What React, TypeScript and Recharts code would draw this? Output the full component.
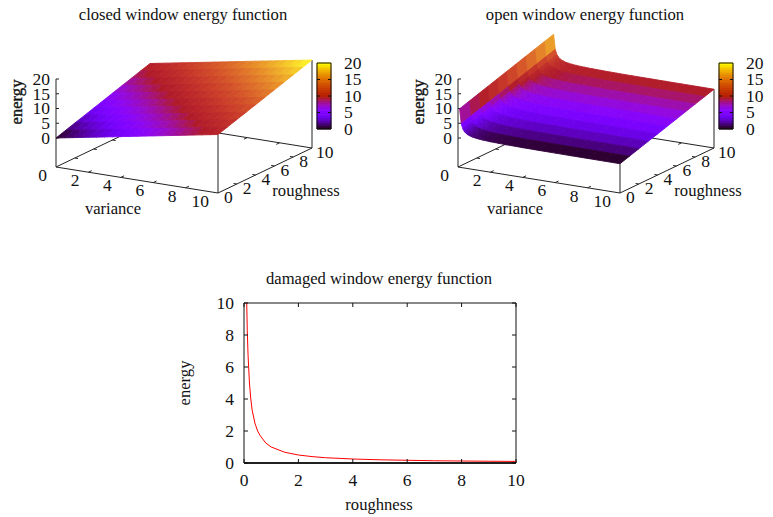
import React from "react";
import { ScatterChart, Scatter, LineChart, Line, XAxis, YAxis, ReferenceLine } from "recharts";

const FONT = "'Liberation Serif', serif";
const INK = "#111";
const TICK_FONT = 17.5;
const LABEL_FONT = 16.6;

const varianceTicks = [0, 2, 4, 6, 8, 10];
const roughnessTicks = [0, 2, 4, 6, 8, 10];
const energyTicks = [0, 5, 10, 15, 20];
const colorbarTicks = [5, 10, 15];
const colorbarLevels = [
  0, 0.5, 1, 1.5, 2, 2.5, 3, 3.5, 4, 4.5, 5, 5.5, 6, 6.5, 7, 7.5, 8, 8.5, 9, 9.5, 10,
  10.5, 11, 11.5, 12, 12.5, 13, 13.5, 14, 14.5, 15, 15.5, 16, 16.5, 17, 17.5, 18, 18.5, 19, 19.5, 20,
];
const roughnessSamples = [0, 1, 2, 3, 4, 5, 6, 7, 8, 9, 10];

const closedVariance = [0, 0.5, 1, 1.5, 2, 2.5, 3, 3.5, 4, 4.5, 5, 5.5, 6, 6.5, 7, 7.5, 8, 8.5, 9, 9.5, 10];
const closedEnergy = [
  [0, 0.5, 1, 1.5, 2, 2.5, 3, 3.5, 4, 4.5, 5, 5.5, 6, 6.5, 7, 7.5, 8, 8.5, 9, 9.5, 10],
  [1, 1.5, 2, 2.5, 3, 3.5, 4, 4.5, 5, 5.5, 6, 6.5, 7, 7.5, 8, 8.5, 9, 9.5, 10, 10.5, 11],
  [2, 2.5, 3, 3.5, 4, 4.5, 5, 5.5, 6, 6.5, 7, 7.5, 8, 8.5, 9, 9.5, 10, 10.5, 11, 11.5, 12],
  [3, 3.5, 4, 4.5, 5, 5.5, 6, 6.5, 7, 7.5, 8, 8.5, 9, 9.5, 10, 10.5, 11, 11.5, 12, 12.5, 13],
  [4, 4.5, 5, 5.5, 6, 6.5, 7, 7.5, 8, 8.5, 9, 9.5, 10, 10.5, 11, 11.5, 12, 12.5, 13, 13.5, 14],
  [5, 5.5, 6, 6.5, 7, 7.5, 8, 8.5, 9, 9.5, 10, 10.5, 11, 11.5, 12, 12.5, 13, 13.5, 14, 14.5, 15],
  [6, 6.5, 7, 7.5, 8, 8.5, 9, 9.5, 10, 10.5, 11, 11.5, 12, 12.5, 13, 13.5, 14, 14.5, 15, 15.5, 16],
  [7, 7.5, 8, 8.5, 9, 9.5, 10, 10.5, 11, 11.5, 12, 12.5, 13, 13.5, 14, 14.5, 15, 15.5, 16, 16.5, 17],
  [8, 8.5, 9, 9.5, 10, 10.5, 11, 11.5, 12, 12.5, 13, 13.5, 14, 14.5, 15, 15.5, 16, 16.5, 17, 17.5, 18],
  [9, 9.5, 10, 10.5, 11, 11.5, 12, 12.5, 13, 13.5, 14, 14.5, 15, 15.5, 16, 16.5, 17, 17.5, 18, 18.5, 19],
  [10, 10.5, 11, 11.5, 12, 12.5, 13, 13.5, 14, 14.5, 15, 15.5, 16, 16.5, 17, 17.5, 18, 18.5, 19, 19.5, 20],
];

const openVariance = [0.1, 0.2, 0.3, 0.4, 0.5, 0.6, 0.7, 0.8, 0.9, 1, 1.25, 1.5, 2, 2.5, 3, 4, 5, 6, 7, 8, 9, 10];
const openEnergy = [
  [10, 5, 3.33, 2.5, 2, 1.67, 1.43, 1.25, 1.11, 1, 0.8, 0.67, 0.5, 0.4, 0.33, 0.25, 0.2, 0.17, 0.14, 0.13, 0.11, 0.1],
  [11, 6, 4.33, 3.5, 3, 2.67, 2.43, 2.25, 2.11, 2, 1.8, 1.67, 1.5, 1.4, 1.33, 1.25, 1.2, 1.17, 1.14, 1.13, 1.11, 1.1],
  [12, 7, 5.33, 4.5, 4, 3.67, 3.43, 3.25, 3.11, 3, 2.8, 2.67, 2.5, 2.4, 2.33, 2.25, 2.2, 2.17, 2.14, 2.13, 2.11, 2.1],
  [13, 8, 6.33, 5.5, 5, 4.67, 4.43, 4.25, 4.11, 4, 3.8, 3.67, 3.5, 3.4, 3.33, 3.25, 3.2, 3.17, 3.14, 3.13, 3.11, 3.1],
  [14, 9, 7.33, 6.5, 6, 5.67, 5.43, 5.25, 5.11, 5, 4.8, 4.67, 4.5, 4.4, 4.33, 4.25, 4.2, 4.17, 4.14, 4.13, 4.11, 4.1],
  [15, 10, 8.33, 7.5, 7, 6.67, 6.43, 6.25, 6.11, 6, 5.8, 5.67, 5.5, 5.4, 5.33, 5.25, 5.2, 5.17, 5.14, 5.13, 5.11, 5.1],
  [16, 11, 9.33, 8.5, 8, 7.67, 7.43, 7.25, 7.11, 7, 6.8, 6.67, 6.5, 6.4, 6.33, 6.25, 6.2, 6.17, 6.14, 6.13, 6.11, 6.1],
  [17, 12, 10.33, 9.5, 9, 8.67, 8.43, 8.25, 8.11, 8, 7.8, 7.67, 7.5, 7.4, 7.33, 7.25, 7.2, 7.17, 7.14, 7.13, 7.11, 7.1],
  [18, 13, 11.33, 10.5, 10, 9.67, 9.43, 9.25, 9.11, 9, 8.8, 8.67, 8.5, 8.4, 8.33, 8.25, 8.2, 8.17, 8.14, 8.13, 8.11, 8.1],
  [19, 14, 12.33, 11.5, 11, 10.67, 10.43, 10.25, 10.11, 10, 9.8, 9.67, 9.5, 9.4, 9.33, 9.25, 9.2, 9.17, 9.14, 9.13, 9.11, 9.1],
  [20, 15, 13.33, 12.5, 12, 11.67, 11.43, 11.25, 11.11, 11, 10.8, 10.67, 10.5, 10.4, 10.33, 10.25, 10.2, 10.17, 10.14, 10.13, 10.11, 10.1],
];

const damagedRoughness = [0.1, 0.12, 0.15, 0.2, 0.25, 0.3, 0.4, 0.5, 0.6, 0.8, 1, 1.5, 2, 2.5, 3, 4, 5, 6, 7, 8, 9, 10];
const damagedEnergy = [10, 8.3, 6.7, 5, 4, 3.3, 2.5, 2, 1.7, 1.25, 1, 0.67, 0.5, 0.4, 0.33, 0.25, 0.2, 0.17, 0.14, 0.125, 0.11, 0.1];
const damagedTicks = [0, 2, 4, 6, 8, 10];

// gnuplot's default 7,5,15 palette
const palette = (energy: number, blueFloor = 0) => {
  const t = Math.min(1, Math.max(0, energy / 20));
  const r = Math.round(255 * Math.sqrt(t));
  const g = Math.round(255 * t * t * t);
  let b = 255 * Math.max(0, Math.sin(2 * Math.PI * t));
  if (t > 0.4) b = Math.max(b, blueFloor); // the surface looks a bit washed out in the reds
  return `rgb(${r},${g},${Math.round(b)})`;
};

// the view: where the box sits inside a panel
const project = (v: number, r: number, z: number) => ({
  x: 56 + v * 16.2 + r * 9.4,
  y: 167 + v * 2.6 - r * 4.5 - 29 - z * 2.95,
});
const base = (v: number, r: number) => ({
  x: 56 + v * 16.2 + r * 9.4,
  y: 167 + v * 2.6 - r * 4.5,
});

const PANEL_W = 371;
const PANEL_H = 230;

type Fill = { from: string; to: string };

// smooth: colour runs along each cell in the variance direction, otherwise one colour per cell
function surfaceQuads(vs: number[], grid: number[][], smooth: boolean) {
  const points: { x: number; y: number }[] = [];
  const fills: Fill[] = [];
  for (let j = roughnessSamples.length - 2; j >= 0; j--) {
    for (let i = 0; i < vs.length - 1; i++) {
      const r0 = roughnessSamples[j];
      const r1 = roughnessSamples[j + 1];
      points.push(
        project(vs[i], r0, grid[j][i]),
        project(vs[i + 1], r0, grid[j][i + 1]),
        project(vs[i + 1], r1, grid[j + 1][i + 1]),
        project(vs[i], r1, grid[j + 1][i])
      );
      const leftZ = (grid[j][i] + grid[j + 1][i]) / 2;
      const rightZ = (grid[j][i + 1] + grid[j + 1][i + 1]) / 2;
      const mid = palette((leftZ + rightZ) / 2, 42);
      fills.push(smooth ? { from: palette(leftZ, 42), to: palette(rightZ, 42) } : { from: mid, to: mid });
    }
  }
  return { points, fills };
}

const polygons = (fills: Fill[], idPrefix: string) => (props: any) => {
  const pts = props.points;
  return (
    <g>
      {fills.map((f, k) => {
        const corners = pts.slice(k * 4, k * 4 + 4);
        const flat = f.from === f.to;
        const paint = flat ? f.from : `url(#${idPrefix}-${k})`;
        return (
          <g key={k}>
            {!flat && (
              <defs>
                <linearGradient
                  id={`${idPrefix}-${k}`}
                  gradientUnits="userSpaceOnUse"
                  x1={corners[0].x}
                  y1={corners[0].y}
                  x2={corners[1].x}
                  y2={corners[1].y}
                >
                  <stop offset="0" stopColor={f.from} />
                  <stop offset="1" stopColor={f.to} />
                </linearGradient>
              </defs>
            )}
            <polygon
              points={corners.map((p: any) => `${p.x},${p.y}`).join(" ")}
              fill={paint}
              stroke={paint}
              strokeWidth={0.9}
              strokeLinejoin="round"
            />
          </g>
        );
      })}
    </g>
  );
};

const segments = (stroke: string, width: number) => (props: any) => {
  const pts = props.points;
  const out = [];
  for (let k = 0; k + 1 < pts.length; k += 2) {
    out.push(
      <line key={k} x1={pts[k].x} y1={pts[k].y} x2={pts[k + 1].x} y2={pts[k + 1].y} stroke={stroke} strokeWidth={width} />
    );
  }
  return <g>{out}</g>;
};

const noMark = () => <g />;

const labelShape = (size: number, anchor: string) => (props: any) => (
  <text x={props.cx} y={props.cy} dy={size * 0.33} textAnchor={anchor} fontSize={size} fontFamily={FONT} fill={INK}>
    {props.payload.label}
  </text>
);

function Surface3D({ left, title, vs, grid, titleX, smooth, idPrefix }: any) {
  const last = roughnessSamples.length - 1;
  const cornerC = grid[last][vs.length - 1];
  const cornerB = grid[0][vs.length - 1];

  const boxLines = [
    base(0, 0), base(10, 0),
    base(10, 0), base(10, 10),
    base(0, 0), base(0, 10),
    base(0, 10), base(10, 10),
    base(0, 0), project(0, 0, 20),
    base(10, 0), project(10, 0, cornerB),
    base(10, 10), project(10, 10, cornerC),
  ];
  const tickLines: { x: number; y: number }[] = [];
  varianceTicks.slice(1, -1).forEach((v) => {
    tickLines.push(base(v, 0), base(v, 0.35), base(v, 10), base(v, 9.65));
  });
  roughnessTicks.slice(1, -1).forEach((r) => {
    tickLines.push(base(0, r), base(0.2, r), base(10, r), base(9.8, r));
  });
  energyTicks.forEach((z) => {
    const p = project(0, 0, z);
    tickLines.push(p, { x: p.x + 3, y: p.y });
  });

  const vLabels = varianceTicks.map((v) => {
    const p = base(v, 0);
    return { x: p.x - 9, y: p.y + 8, label: String(v) };
  });
  const rLabels = roughnessTicks.map((r) => {
    const p = base(10, r);
    return { x: p.x + (r === 10 ? 4 : 6), y: p.y + 4, label: String(r) };
  });
  const zLabels = energyTicks.map((z) => {
    const p = project(0, 0, z);
    return { x: p.x - 6, y: p.y, label: String(z) };
  });

  // colour box, drawn in the panel's own coordinates
  const cbX0 = 317;
  const cbX1 = 331;
  const cbY = (level: number) => 129 - level * 3.3;
  const cbPoints: { x: number; y: number }[] = [];
  const cbFills: Fill[] = [];
  colorbarLevels.slice(0, -1).forEach((lv, k) => {
    const next = colorbarLevels[k + 1];
    const c = palette((lv + next) / 2);
    cbPoints.push({ x: cbX0, y: cbY(lv) }, { x: cbX1, y: cbY(lv) }, { x: cbX1, y: cbY(next) }, { x: cbX0, y: cbY(next) });
    cbFills.push({ from: c, to: c });
  });
  const cbFrame = [
    { x: cbX0, y: cbY(0) }, { x: cbX1, y: cbY(0) },
    { x: cbX1, y: cbY(0) }, { x: cbX1, y: cbY(20) },
    { x: cbX1, y: cbY(20) }, { x: cbX0, y: cbY(20) },
    { x: cbX0, y: cbY(20) }, { x: cbX0, y: cbY(0) },
  ];
  colorbarTicks.forEach((lv) => {
    cbFrame.push(
      { x: cbX0, y: cbY(lv) }, { x: cbX0 + 3, y: cbY(lv) },
      { x: cbX1 - 3, y: cbY(lv) }, { x: cbX1, y: cbY(lv) }
    );
  });
  const cbLabels = energyTicks.map((lv) => ({ x: 344, y: cbY(lv), label: String(lv) }));

  const quads = surfaceQuads(vs, grid, smooth);
  const names = [{ x: titleX, y: 15, label: title }];
  const variancePos = [{ x: 113, y: 209, label: "variance" }];
  const roughnessPos = [{ x: 306, y: 191, label: "roughness" }];

  return (
    <div style={{ position: "absolute", left, top: 0 }}>
      <ScatterChart width={PANEL_W} height={PANEL_H} margin={{ top: 0, right: 0, bottom: 0, left: 0 }}>
        <XAxis type="number" dataKey="x" domain={[0, PANEL_W]} hide />
        <YAxis type="number" dataKey="y" domain={[0, PANEL_H]} reversed hide width={0} />
        <Scatter data={boxLines} line={segments("#222", 1)} shape={noMark} isAnimationActive={false} />
        <Scatter data={tickLines} line={segments("#222", 1)} shape={noMark} isAnimationActive={false} />
        <Scatter data={quads.points} line={polygons(quads.fills, idPrefix)} shape={noMark} isAnimationActive={false} />
        <Scatter data={cbPoints} line={polygons(cbFills, idPrefix + "-cb")} shape={noMark} isAnimationActive={false} />
        <Scatter data={cbFrame} line={segments("#111", 1)} shape={noMark} isAnimationActive={false} />
        <Scatter data={vLabels} shape={labelShape(TICK_FONT, "end")} isAnimationActive={false} />
        <Scatter data={rLabels} shape={labelShape(TICK_FONT, "start")} isAnimationActive={false} />
        <Scatter data={zLabels} shape={labelShape(TICK_FONT, "end")} isAnimationActive={false} />
        <Scatter data={cbLabels} shape={labelShape(TICK_FONT, "start")} isAnimationActive={false} />
        <Scatter data={names} shape={labelShape(LABEL_FONT, "middle")} isAnimationActive={false} />
        <Scatter data={variancePos} shape={labelShape(LABEL_FONT, "middle")} isAnimationActive={false} />
        <Scatter data={roughnessPos} shape={labelShape(LABEL_FONT, "middle")} isAnimationActive={false} />
        <text
          transform="translate(17,102) rotate(-90)"
          dy={5}
          textAnchor="middle"
          fontSize={LABEL_FONT}
          fontFamily={FONT}
          fill={INK}
          stroke={INK}
          strokeWidth={0.35}
        >
          energy
        </text>
      </ScatterChart>
    </div>
  );
}

const bottomXTick = (props: any) => (
  <g>
    <line x1={props.x} y1={props.y} x2={props.x} y2={props.y - 4} stroke={INK} />
    <line x1={props.x} y1={props.y - 160} x2={props.x} y2={props.y - 156} stroke={INK} />
    <text x={props.x} y={props.y + 23} textAnchor="middle" fontSize={TICK_FONT} fontFamily={FONT} fill={INK}>
      {props.payload.value}
    </text>
  </g>
);

const bottomYTick = (props: any) => (
  <g>
    <line x1={props.x} y1={props.y} x2={props.x + 4} y2={props.y} stroke={INK} />
    <line x1={props.x + 272} y1={props.y} x2={props.x + 268} y2={props.y} stroke={INK} />
    <text x={props.x - 10} y={props.y + 5.5} textAnchor="end" fontSize={TICK_FONT} fontFamily={FONT} fill={INK}>
      {props.payload.value}
    </text>
  </g>
);

const damagedData = damagedRoughness.map((r, k) => ({ roughness: r, energy: damagedEnergy[k] }));

function DamagedChart() {
  return (
    <div style={{ position: "absolute", left: 0, top: 260 }}>
      <LineChart width={773} height={257} data={damagedData} margin={{ top: 43, right: 257, bottom: 53, left: 243 }}>
        <XAxis
          type="number"
          dataKey="roughness"
          domain={[0, 10]}
          ticks={damagedTicks}
          interval={0}
          height={1}
          tickLine={false}
          tickSize={0}
          tickMargin={0}
          tick={bottomXTick}
          axisLine={{ stroke: INK }}
        />
        <YAxis
          type="number"
          domain={[0, 10]}
          ticks={damagedTicks}
          interval={0}
          width={1}
          tickLine={false}
          tickSize={0}
          tickMargin={0}
          tick={bottomYTick}
          axisLine={{ stroke: INK }}
        />
        <ReferenceLine y={10} stroke={INK} />
        <ReferenceLine x={10} stroke={INK} />
        <ReferenceLine y={0} stroke="#333" strokeWidth={2} />
        <Line type="linear" dataKey="energy" stroke="#ff0000" strokeWidth={1} dot={false} isAnimationActive={false} />
        <text x={379} y={24} textAnchor="middle" fontSize={LABEL_FONT} fontFamily={FONT} fill={INK}>
          damaged window energy function
        </text>
        <text x={379} y={250} textAnchor="middle" fontSize={LABEL_FONT} fontFamily={FONT} fill={INK}>
          roughness
        </text>
        <text transform="translate(185,123) rotate(-90)" dy={5} textAnchor="middle" fontSize={LABEL_FONT} fontFamily={FONT} fill={INK}>
          energy
        </text>
      </LineChart>
    </div>
  );
}

export default function App() {
  return (
    <div style={{ position: "relative", width: 773, height: 517 }}>
      <div style={{ position: "absolute", left: -8, top: -8, width: 773, height: 517, background: "#fff" }}>
        <Surface3D left={0} title="closed window energy function" titleX={183} vs={closedVariance} grid={closedEnergy} smooth idPrefix="closed" />
        <Surface3D left={402} title="open window energy function" titleX={183} vs={openVariance} grid={openEnergy} smooth={false} idPrefix="open" />
        <DamagedChart />
      </div>
    </div>
  );
}
